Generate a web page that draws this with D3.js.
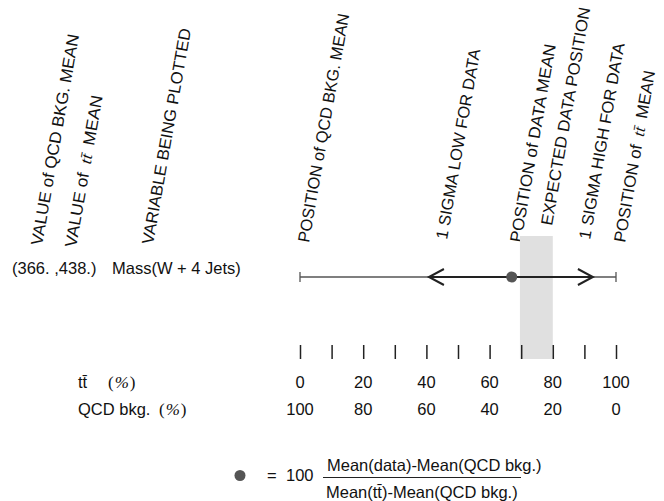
<!DOCTYPE html>
<html>
<head>
<meta charset="utf-8">
<script src="https://cdn.jsdelivr.net/npm/d3@7"></script>
<style>
  body { margin: 0; background: #fff; }
  svg { display: block; }
  text { font-family: "Liberation Sans", Arial, Helvetica, sans-serif; fill: #111; }
</style>
</head>
<body>
<div id="chart"></div>
<script>
// values
const meanValues = ["366.", "438."]            // QCD bkg. mean, ttbar mean
const variableName = "Mass(W + 4 Jets)"
const tickValues = [0, 10, 20, 30, 40, 50, 60, 70, 80, 90, 100]
const ttLabels = [0, 20, 40, 60, 80, 100]
const qcdLabels = [100, 80, 60, 40, 20, 0]
const dataMean = 67
const sigmaLow = 40.8
const sigmaHigh = 92.7
const expectedBand = [69.6, 80]

const leftHeaders = ["VALUE of QCD BKG. MEAN", "VALUE of tt MEAN", "VARIABLE BEING PLOTTED"]
const scaleHeaders = [
  "POSITION of QCD BKG. MEAN",
  "1 SIGMA LOW FOR DATA",
  "POSITION of DATA MEAN",
  "EXPECTED DATA POSITION",
  "1 SIGMA HIGH FOR DATA",
  "POSITION of tt MEAN",
]

// layout
const width = 664
const height = 501
const lineY = 277
const tickTop = 345
const tickLen = 14
const fontSize = 16.5
const headSize = 16.5
const angle = -80
// baseline start and stretched length of each rotated header
const leftHeaderPos = [[42, 246, 214], [76, 248, 154], [153, 245, 219]]
const scaleHeaderPos = [
  [309, 243, 232], [447, 240, 193], [521, 243, 201],
  [552, 226, 221], [590, 240, 199], [625, 243, 174],
]

const svg = d3.select("#chart")
  .append("svg")
  .attr("width", width)
  .attr("height", height)

const x = d3.scaleLinear()
  .domain([0, 100])
  .range([300, 616])

// writes a label, drawing "tt" with a bar over the second t
function addLabel(sel, str, serifTT) {
  const parts = str.split("tt")
  sel.append("tspan").text(parts[0])
  if (parts.length > 1) {
    const tt = sel.append("tspan").text("tt\u0304")
    if (serifTT) {
      tt.style("font-family", '"Liberation Serif", "Times New Roman", serif')
        .style("font-style", "italic")
        .attr("dx", 4)
      sel.append("tspan").attr("dx", 4).text(parts[1])
    } else {
      sel.append("tspan").text(parts[1])
    }
  }
}

// rotated column headers
function addHeader(h, pos) {
  const t = svg.append("text")
    .attr("transform", `translate(${pos[0]},${pos[1]}) rotate(${angle})`)
    .attr("textLength", pos[2])
    .attr("lengthAdjust", "spacingAndGlyphs")
    .style("font-size", headSize + "px")
  addLabel(t, h, true)
}
leftHeaders.forEach((h, i) => addHeader(h, leftHeaderPos[i]))
scaleHeaders.forEach((h, i) => addHeader(h, scaleHeaderPos[i]))

// expected data position band
svg.append("rect")
  .attr("x", x(expectedBand[0]))
  .attr("width", x(expectedBand[1]) - x(expectedBand[0]))
  .attr("y", 236)
  .attr("height", tickTop + tickLen - 236)
  .style("fill", "#e0e0e0")

// row text
svg.append("text")
  .attr("x", 12).attr("y", lineY - 3)
  .style("font-size", fontSize + "px")
  .text(`(${meanValues[0]} ,${meanValues[1]})`)
svg.append("text")
  .attr("x", 112).attr("y", lineY - 3)
  .style("font-size", fontSize + "px")
  .text(variableName)

// full range line with end caps
svg.append("line")
  .attr("x1", x(0)).attr("x2", x(100))
  .attr("y1", lineY).attr("y2", lineY)
  .style("stroke", "#555").style("stroke-width", 1.3)
svg.selectAll(".cap")
  .data([0, 100])
  .enter()
  .append("line")
  .attr("class", "cap")
  .attr("x1", d => x(d)).attr("x2", d => x(d))
  .attr("y1", lineY - 5).attr("y2", lineY + 5)
  .style("stroke", "#555").style("stroke-width", 1.3)

// one sigma range with open arrow heads
svg.append("line")
  .attr("x1", x(sigmaLow)).attr("x2", x(sigmaHigh))
  .attr("y1", lineY).attr("y2", lineY)
  .style("stroke", "#222").style("stroke-width", 2)
svg.selectAll(".arrow")
  .data([{v: sigmaLow, dir: 1}, {v: sigmaHigh, dir: -1}])
  .enter()
  .append("polyline")
  .attr("class", "arrow")
  .attr("points", d => {
    const tip = x(d.v)
    return `${tip + d.dir * 15},${lineY - 8} ${tip},${lineY} ${tip + d.dir * 15},${lineY + 8}`
  })
  .style("fill", "none").style("stroke", "#222").style("stroke-width", 2)

svg.append("circle")
  .attr("cx", x(dataMean)).attr("cy", lineY)
  .attr("r", 5.5)
  .style("fill", "#555")

// percentage ticks
const axis = d3.axisBottom(x)
  .tickValues(tickValues)
  .tickSize(tickLen)
  .tickFormat("")
const axisG = svg.append("g")
  .attr("transform", `translate(0,${tickTop})`)
  .call(axis)
axisG.select(".domain").remove()
axisG.selectAll(".tick line").style("stroke", "#222").style("stroke-width", 1.5)

// percentage row labels
function addPercent(px, py) {
  const t = svg.append("text").attr("x", px).attr("y", py)
    .style("font-size", "17px")
    .style("font-family", '"Liberation Serif", "Times New Roman", serif')
  t.append("tspan").text("(")
  t.append("tspan").attr("dx", 1).style("font-style", "italic").text("%")
  t.append("tspan").attr("dx", 1).text(")")
}
const ttRow = svg.append("text").attr("x", 78).attr("y", 388).style("font-size", fontSize + "px")
addLabel(ttRow, "tt", false)
addPercent(108, 388)
svg.append("text").attr("x", 78).attr("y", 415).style("font-size", fontSize + "px").text("QCD bkg.")
addPercent(159, 415)

svg.selectAll(".tt-label")
  .data(ttLabels)
  .enter()
  .append("text")
  .attr("class", "tt-label")
  .attr("x", d => x(d)).attr("y", 388)
  .style("text-anchor", "middle")
  .style("font-size", fontSize + "px")
  .text(d => d)
svg.selectAll(".qcd-label")
  .data(qcdLabels)
  .enter()
  .append("text")
  .attr("class", "qcd-label")
  .attr("x", (d, i) => x(ttLabels[i])).attr("y", 415)
  .style("text-anchor", "middle")
  .style("font-size", fontSize + "px")
  .text(d => d)

// legend formula
const fy = 477.5
svg.append("circle").attr("cx", 240).attr("cy", fy - 2).attr("r", 5.5).style("fill", "#555")
svg.append("text").attr("x", 267).attr("y", fy + 3).style("font-size", fontSize + "px").text("=")
svg.append("text").attr("x", 286).attr("y", fy + 3).style("font-size", fontSize + "px").text("100")
svg.append("text").attr("x", 327).attr("y", fy - 7).style("font-size", fontSize + "px")
  .text("Mean(data)-Mean(QCD bkg.)")
svg.append("line")
  .attr("x1", 323).attr("x2", 521)
  .attr("y1", fy).attr("y2", fy)
  .style("stroke", "#222").style("stroke-width", 1.2)
const denom = svg.append("text").attr("x", 326).attr("y", fy + 20).style("font-size", fontSize + "px")
addLabel(denom, "Mean(tt)-Mean(QCD bkg.)", false)
</script>
</body>
</html>
